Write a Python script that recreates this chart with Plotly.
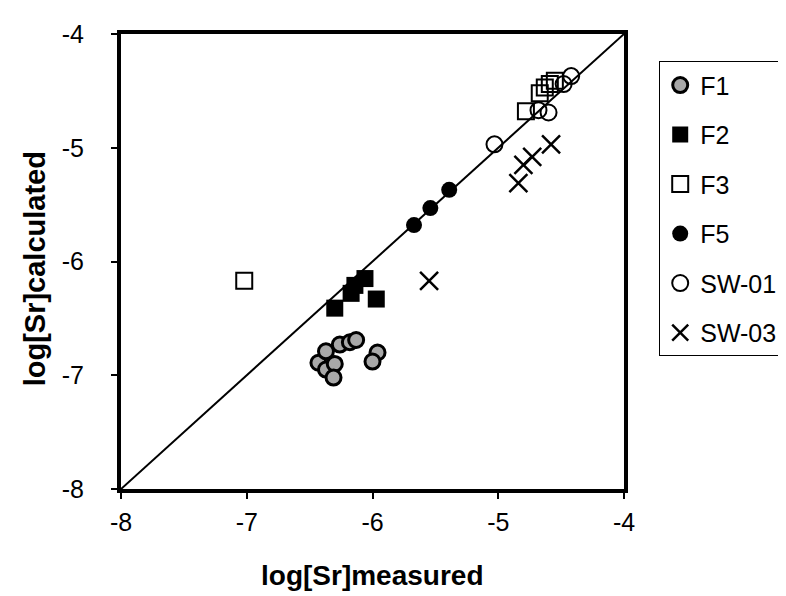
import plotly.graph_objects as go

# ---- data ----
f1_x = [-6.43, -6.37, -6.37, -6.30, -6.31, -6.26, -6.18, -6.13, -5.96, -6.00]
f1_y = [-6.89, -6.79, -6.95, -6.90, -7.02, -6.73, -6.71, -6.69, -6.80, -6.88]

f2_x = [-6.30, -6.17, -6.14, -6.06, -5.97]
f2_y = [-6.41, -6.28, -6.21, -6.15, -6.33]

f3_x = [-7.02, -4.78, -4.67, -4.63, -4.59, -4.55]
f3_y = [-6.17, -4.68, -4.52, -4.47, -4.44, -4.41]

f5_x = [-5.67, -5.54, -5.39]
f5_y = [-5.68, -5.53, -5.37]

sw01_x = [-5.03, -4.68, -4.60, -4.48, -4.42]
sw01_y = [-4.97, -4.67, -4.69, -4.44, -4.37]

sw03_x = [-5.55, -4.84, -4.80, -4.73, -4.58]
sw03_y = [-6.17, -5.31, -5.15, -5.08, -4.97]

one_to_one = [-8, -4]
tick_vals = [-8, -7, -6, -5, -4]
tick_text = ["-8", "-7", "-6", "-5", "-4"]

FONT = "Liberation Sans, Arial, sans-serif"

fig = go.Figure()

fig.add_trace(go.Scatter(x=one_to_one, y=one_to_one, mode="lines",
                         line=dict(color="black", width=2), showlegend=False,
                         hoverinfo="skip"))

fig.add_trace(go.Scatter(x=f1_x, y=f1_y, mode="markers", name="F1", legendgroup="a",
                         marker=dict(symbol="circle", size=15, color="#a8a8a8",
                                     line=dict(color="black", width=3))))
fig.add_trace(go.Scatter(x=f2_x, y=f2_y, mode="markers", name="F2", legendgroup="b",
                         marker=dict(symbol="square", size=17, color="black",
                                     line=dict(color="black", width=0))))
fig.add_trace(go.Scatter(x=f3_x, y=f3_y, mode="markers", name="F3", legendgroup="c",
                         marker=dict(symbol="square-open", size=16, color="black",
                                     line=dict(color="black", width=2))))
fig.add_trace(go.Scatter(x=f5_x, y=f5_y, mode="markers", name="F5", legendgroup="d",
                         marker=dict(symbol="circle", size=16, color="black",
                                     line=dict(color="black", width=0))))
fig.add_trace(go.Scatter(x=sw01_x, y=sw01_y, mode="markers", name="SW-01", legendgroup="e",
                         marker=dict(symbol="circle-open", size=16, color="black",
                                     line=dict(color="black", width=2))))
fig.add_trace(go.Scatter(x=sw03_x, y=sw03_y, mode="markers", name="SW-03", legendgroup="f",
                         marker=dict(symbol="x-thin-open", size=18, color="black",
                                     line=dict(color="black", width=2.5))))

axis_common = dict(range=[-8, -4], tickvals=tick_vals, ticktext=tick_text,
                   showgrid=False, zeroline=False,
                   showline=True, linecolor="black", linewidth=4, mirror=True,
                   ticks="outside", ticklen=6, tickwidth=1.5, tickcolor="black",
                   tickfont=dict(family=FONT, size=25, color="black"))

fig.update_xaxes(**axis_common, ticklabelstandoff=2)
fig.update_yaxes(**axis_common, ticklabelstandoff=22)

fig.update_layout(
    width=786, height=596,
    margin=dict(l=113, r=159, t=21, b=115),
    plot_bgcolor="white", paper_bgcolor="white",
    font=dict(family=FONT, color="black"),
    legend=dict(x=1.07, xanchor="left", y=0.94, yanchor="top",
                bordercolor="black", borderwidth=1, bgcolor="white",
                font=dict(family=FONT, size=25, color="black"),
                tracegroupgap=14),
    annotations=[
        dict(text="<b>log[Sr]measured</b>", xref="paper", yref="paper",
             x=0.5, y=-0.19, xanchor="center", yanchor="middle", showarrow=False,
             font=dict(family=FONT, size=28, color="black")),
        dict(text="<b>log[Sr]calculated</b>", xref="paper", yref="paper",
             x=-0.171, y=0.485, xanchor="center", yanchor="middle", showarrow=False,
             textangle=-90, font=dict(family=FONT, size=29, color="black")),
    ],
)

fig.write_html("out.html")
